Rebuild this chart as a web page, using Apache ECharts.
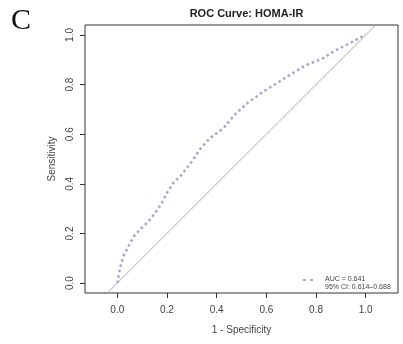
<!DOCTYPE html>
<html><head><meta charset="utf-8">
<script src="https://cdn.jsdelivr.net/npm/echarts@6/dist/echarts.min.js"></script>
<style>html,body{margin:0;padding:0;background:#fff}#c{width:403px;height:344px}</style>
</head><body><div id="c"></div>
<script>
const fpr = [0,0.011,0.024,0.044,0.071,0.098,0.125,0.152,0.179,0.199,0.225,0.259,0.300,0.333,0.373,0.427,0.474,0.527,0.588,0.642,0.695,0.749,0.776,0.829,0.870,0.937,0.977,1];
const tpr = [0,0.060,0.107,0.147,0.195,0.222,0.248,0.282,0.322,0.362,0.403,0.436,0.490,0.540,0.584,0.624,0.680,0.728,0.772,0.805,0.839,0.872,0.885,0.906,0.933,0.967,0.989,1];
const chanceLine = [[-0.04,-0.04],[1.04,1.04]];
const tickValues = [0,0.2,0.4,0.6,0.8,1.0];
const titleText = 'ROC Curve: HOMA-IR';
const panelLabel = 'C';
const legendLines = ['AUC = 0.641','95% CI: 0.614\u20130.688'];

const chart = echarts.init(document.getElementById('c'), null, {renderer:'canvas'});
const txt = '#444';
const font = 'Liberation Sans, Arial, sans-serif';
chart.setOption({
  animation:false,
  title:{text:titleText,left:241.5,textAlign:'center',top:3,textStyle:{fontFamily:font,fontSize:11,fontWeight:'bold',color:'#222'}},
  grid:{left:85,right:5,top:25,bottom:51,show:true,borderColor:'#333',borderWidth:1,backgroundColor:'transparent'},
  xAxis:{type:'value',min:-0.13,max:1.13,
    name:'1 - Specificity',nameLocation:'middle',nameGap:32,nameTextStyle:{fontFamily:font,fontSize:10,color:txt},
    axisLine:{show:false,onZero:false},splitLine:{show:false},
    axisTick:{show:true,inside:false,length:5,customValues:tickValues,lineStyle:{color:'#333'}},
    axisLabel:{customValues:tickValues,margin:12,fontFamily:font,fontSize:10,color:txt,formatter:v=>v.toFixed(1)}},
  yAxis:{type:'value',min:-0.04,max:1.04,
    name:'Sensitivity',nameLocation:'middle',nameGap:27,nameRotate:90,nameTextStyle:{fontFamily:font,fontSize:10,color:txt},
    axisLine:{show:false,onZero:false},splitLine:{show:false},
    axisTick:{show:true,inside:false,length:5,customValues:tickValues,lineStyle:{color:'#333'}},
    axisLabel:{customValues:tickValues,rotate:90,margin:10,fontFamily:font,fontSize:10,color:txt,formatter:v=>v.toFixed(1)}},
  series:[
    {type:'line',data:chanceLine,symbol:'none',silent:true,lineStyle:{color:'#aaa',width:1},z:1},
    {type:'line',data:fpr.map((x,i)=>[x,tpr[i]]),symbol:'none',lineStyle:{color:'#a3a3d6',width:2.5,type:[2.5,3],cap:'butt'},z:2}
  ],
  graphic:[
    {type:'text',left:11,top:6,style:{text:panelLabel,font:'30px "Liberation Serif", "Times New Roman", serif',fill:'#111'}},
    {type:'line',shape:{x1:303,y1:280,x2:315,y2:280},style:{stroke:'#a3a3d6',lineWidth:2,lineDash:[3,4]}},
    {type:'text',x:325,y:279,style:{text:legendLines[0],font:'7px '+font,fill:txt,textVerticalAlign:'middle'}},
    {type:'text',x:325,y:287,style:{text:legendLines[1],font:'7px '+font,fill:txt,textVerticalAlign:'middle'}}
  ]
});
</script></body></html>
